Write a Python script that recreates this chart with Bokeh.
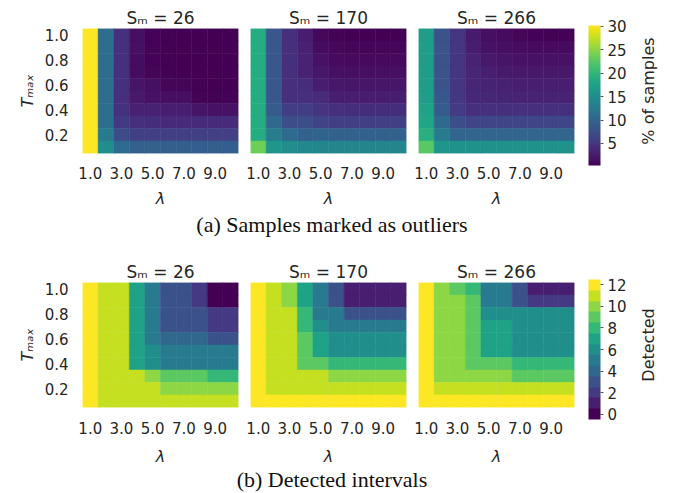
import math
from bokeh.plotting import figure
from bokeh.layouts import column, row
from bokeh.models import (ColumnDataSource, LinearColorMapper, ColorBar, FixedTicker,
                          PrintfTickFormatter, Range1d, Div, Label)
from bokeh.palettes import Viridis256, viridis
from bokeh.embed import file_html
from bokeh.resources import INLINE

# ---------------- data ----------------
lambdas = [1, 2, 3, 4, 5, 6, 7, 8, 9, 10]
t_max = [1.0, 0.9, 0.8, 0.7, 0.6, 0.5, 0.4, 0.3, 0.2, 0.1]   # rows, top to bottom
s_m = [26, 170, 266]
x_ticks = [1, 3, 5, 7, 9]
y_ticks = [0.2, 0.4, 0.6, 0.8, 1.0]
pct_ticks = [5, 10, 15, 20, 25, 30]
det_ticks = [0, 2, 4, 6, 8, 10, 12]
pct_range = [0.3, 30.2]
det_range = [0, 12]

# (a) % of samples marked as outliers
pct_26 = [
    [30.2, 11, 4.5, 1.5, 0.6, 0.5, 0.4, 0.3, 0.3, 0.3],
    [30.2, 11, 4.5, 1.5, 0.6, 0.5, 0.4, 0.3, 0.3, 0.3],
    [30.2, 11, 4.5, 1.3, 0.6, 0.5, 0.4, 0.3, 0.3, 0.3],
    [30.2, 11, 4.5, 1.3, 0.7, 0.5, 0.4, 0.4, 0.3, 0.3],
    [30.2, 11, 4.5, 2.0, 1.5, 0.8, 0.7, 0.5, 0.4, 0.4],
    [30.2, 11, 4.5, 2.4, 1.8, 1.5, 1.5, 0.6, 0.5, 0.5],
    [30.2, 11, 4.6, 3.0, 3.0, 2.8, 2.8, 2.0, 1.8, 1.8],
    [30.2, 11, 5.4, 4.5, 4.2, 4.0, 4.0, 4.0, 4.0, 4.0],
    [30.2, 12.5, 7.2, 6.0, 6.0, 6.0, 6.0, 6.0, 6.0, 6.0],
    [30.2, 15, 10.8, 9.5, 9.5, 9.3, 9.3, 9.2, 9.2, 9.2],
]
pct_170 = [
    [18.8, 8.4, 4.5, 2.7, 1.0, 0.6, 0.4, 0.3, 0.3, 0.3],
    [18.8, 8.4, 4.5, 3.0, 1.3, 0.9, 0.8, 0.8, 0.8, 0.8],
    [18.8, 8.4, 4.5, 3.3, 1.8, 1.2, 1.1, 1.1, 1.1, 1.1],
    [18.8, 8.4, 4.5, 3.3, 2.2, 1.6, 1.5, 1.5, 1.5, 1.5],
    [18.8, 8.4, 4.5, 4.2, 2.6, 2.2, 2.1, 2.1, 2.1, 2.1],
    [18.8, 8.4, 4.5, 4.4, 3.9, 2.8, 2.7, 2.7, 2.7, 2.7],
    [18.8, 9.0, 5.7, 5.7, 4.8, 4.3, 4.2, 4.2, 4.2, 4.2],
    [18.8, 10.5, 7.5, 7.5, 6.3, 6.0, 6.0, 6.0, 6.0, 6.0],
    [18.8, 12.8, 10.8, 9.6, 9.9, 9.6, 9.6, 9.6, 9.6, 9.6],
    [23.6, 16, 15, 14.3, 14, 14, 14, 14, 14, 14],
]
pct_266 = [
    [17, 8.0, 5.0, 2.5, 1.5, 1.2, 0.8, 0.6, 0.5, 0.5],
    [17, 8.0, 5.0, 2.7, 1.8, 1.5, 1.3, 1.2, 1.2, 1.2],
    [17, 8.0, 5.0, 3.2, 2.3, 2.0, 1.8, 1.8, 1.8, 1.8],
    [17, 8.0, 5.0, 3.5, 2.8, 2.5, 2.3, 2.3, 2.3, 2.3],
    [17, 8.0, 5.0, 3.5, 3.2, 3.0, 2.8, 2.8, 2.8, 2.8],
    [17, 8.5, 5.2, 3.8, 3.5, 3.4, 3.3, 3.3, 3.3, 3.3],
    [17.5, 9.0, 5.5, 4.5, 4.5, 4.5, 4.5, 4.5, 4.5, 4.5],
    [18, 10.5, 7.5, 6.5, 6.5, 6.5, 6.5, 6.5, 6.5, 6.5],
    [19, 12.5, 10, 10, 10, 10, 10, 10, 10, 10],
    [22.5, 16, 15.5, 15.5, 15.5, 15.5, 15.5, 15.5, 15.5, 15.5],
]

# (b) detected intervals
det_26 = [
    [12, 11, 11, 7, 5, 3, 3, 2, 0, 0],
    [12, 11, 11, 7, 5, 3, 3, 2, 0, 0],
    [12, 11, 11, 7, 5, 3, 3, 3, 2, 2],
    [12, 11, 11, 7, 5, 3, 3, 3, 2, 2],
    [12, 11, 11, 7, 5, 4, 4, 4, 3, 3],
    [12, 11, 11, 7, 6, 5, 5, 5, 5, 5],
    [12, 11, 11, 7, 6, 5, 5, 5, 5, 5],
    [12, 11, 11, 11, 10, 9, 9, 9, 8, 8],
    [12, 11, 11, 11, 11, 10, 10, 10, 10, 10],
    [12, 11, 11, 11, 11, 11, 11, 11, 11, 11],
]
det_170 = [
    [12, 11, 10, 7, 5, 3, 1, 1, 1, 1],
    [12, 11, 10, 7, 5, 3, 1, 1, 1, 1],
    [12, 11, 11, 8, 5, 5, 3, 3, 3, 3],
    [12, 11, 11, 8, 6, 5, 5, 5, 5, 5],
    [12, 11, 11, 9, 7, 6, 6, 6, 6, 6],
    [12, 11, 11, 9, 7, 6, 6, 6, 6, 6],
    [12, 11, 11, 9, 9, 8, 8, 8, 8, 8],
    [12, 11, 11, 11, 11, 10, 10, 10, 10, 10],
    [12, 11, 11, 11, 11, 11, 11, 11, 11, 11],
    [12, 12, 12, 12, 12, 12, 12, 12, 12, 12],
]
det_266 = [
    [12, 10, 9, 8, 5, 5, 3, 1, 1, 1],
    [12, 10, 10, 9, 5, 5, 3, 2, 2, 2],
    [12, 10, 10, 9, 6, 6, 6, 6, 6, 6],
    [12, 10, 10, 9, 7, 7, 6, 6, 6, 6],
    [12, 10, 10, 9, 7, 7, 6, 6, 6, 6],
    [12, 10, 10, 9, 7, 7, 6, 6, 6, 6],
    [12, 10, 10, 9, 9, 9, 8, 8, 8, 8],
    [12, 10, 10, 10, 10, 10, 9, 9, 9, 9],
    [12, 11, 11, 11, 11, 11, 11, 11, 11, 11],
    [12, 12, 12, 12, 12, 12, 12, 12, 12, 12],
]

caption_a = "(a) Samples marked as outliers"
caption_b = "(b) Detected intervals"

# ---------------- styling ----------------
TXT = "#262626"
FONT = "DejaVu Sans"
FIG_H = 215

pct_mapper = LinearColorMapper(palette=Viridis256, low=pct_range[0], high=pct_range[1])
det_mapper = LinearColorMapper(palette=viridis(13), low=det_range[0] - 0.5, high=det_range[1] + 0.5)


def heatmap(values, sm, mapper, first, tick_standoff, label_standoff):
    xs, ys, vs = [], [], []
    for i, t in enumerate(t_max):
        for j, lam in enumerate(lambdas):
            xs.append(lam)
            ys.append(t)
            vs.append(values[i][j])
    src = ColumnDataSource(dict(x=xs, y=ys, v=vs))
    left = 82 if first else 6
    p = figure(width=left + 156 + 6, height=FIG_H,
               x_range=Range1d(lambdas[0] - 0.5, lambdas[-1] + 0.5),
               y_range=Range1d(t_max[-1] - 0.05, t_max[0] + 0.05),
               output_backend="svg", toolbar_location=None,
               title="Sₘ = %d" % sm,
               y_axis_location="left" if first else None,
               min_border_left=left, min_border_right=6,
               min_border_top=28, min_border_bottom=62)
    p.rect("x", "y", 1, 0.1, source=src,
           fill_color={"field": "v", "transform": mapper},
           line_color={"field": "v", "transform": mapper}, line_width=0.5)
    p.grid.visible = False
    p.outline_line_color = None
    p.title.align = "center"
    p.title.text_font = FONT
    p.title.text_font_size = "17px"
    p.title.text_font_style = "normal"
    p.title.text_color = TXT
    p.title.standoff = 2
    axes = [p.xaxis[0]] + ([p.yaxis[0]] if first else [])
    for ax in axes:
        ax.axis_line_color = None
        ax.major_tick_line_color = None
        ax.minor_tick_line_color = None
        ax.major_label_text_font = FONT
        ax.major_label_text_font_size = "15px"
        ax.major_label_text_color = TXT
        ax.axis_label_text_font = FONT
        ax.axis_label_text_font_size = "16px"
        ax.axis_label_text_font_style = "italic"
        ax.axis_label_text_color = TXT
        ax.formatter = PrintfTickFormatter(format="%.1f")
    p.xaxis.ticker = FixedTicker(ticks=x_ticks)
    p.xaxis.axis_label = "λ"
    p.xaxis.major_label_standoff = tick_standoff
    p.xaxis.axis_label_standoff = label_standoff
    if first:
        p.yaxis.ticker = FixedTicker(ticks=y_ticks)
        p.yaxis.axis_label = "Tₘₐₓ"
        p.yaxis.major_label_standoff = 8
        p.yaxis.axis_label_standoff = 5
    return p


def colorbar_fig(mapper, lo, hi, ticks, label, top):
    frame_w = 72
    p = figure(width=8 + frame_w + 4, height=FIG_H,
               x_range=Range1d(0, frame_w), y_range=Range1d(lo, hi),
               x_axis_location=None, y_axis_location=None,
               output_backend="svg", toolbar_location=None,
               min_border_left=8, min_border_right=4,
               min_border_top=top, min_border_bottom=FIG_H - top - 140)
    p.grid.visible = False
    p.outline_line_color = None
    cb = ColorBar(color_mapper=mapper, width=12, height=140, padding=0, margin=0,
                  location=(0, -12),
                  ticker=FixedTicker(ticks=ticks),
                  formatter=PrintfTickFormatter(format="%d"),
                  major_tick_in=0, major_tick_out=3,
                  major_tick_line_color="#555555", minor_tick_line_color=None,
                  label_standoff=4,
                  major_label_text_font=FONT, major_label_text_font_size="15px",
                  major_label_text_color=TXT,
                  bar_line_color=None, border_line_color=None,
                  background_fill_color=None)
    p.add_layout(cb, "center")
    lab = Label(x=60, y=(lo + hi) / 2, text=label,
                angle=math.pi / 2, angle_units="rad", text_align="center",
                text_baseline="middle", text_font=FONT, text_font_size="16px",
                text_color=TXT)
    p.add_layout(lab)
    return p


row_a = row(
    heatmap(pct_26, s_m[0], pct_mapper, True, 7, 7),
    heatmap(pct_170, s_m[1], pct_mapper, False, 7, 7),
    heatmap(pct_266, s_m[2], pct_mapper, False, 7, 7),
    colorbar_fig(pct_mapper, pct_range[0], pct_range[1], pct_ticks, "% of samples", 22),
)
row_b = row(
    heatmap(det_26, s_m[0], det_mapper, True, 8, 10),
    heatmap(det_170, s_m[1], det_mapper, False, 8, 10),
    heatmap(det_266, s_m[2], det_mapper, False, 8, 10),
    colorbar_fig(det_mapper, det_range[0] - 0.5, det_range[1] + 0.5, det_ticks, "Detected", 24),
)

cap_style = {"font-family": "Liberation Serif", "font-size": "22px", "color": "#111111",
             "text-align": "center", "width": "664px"}
cap_a = Div(text=caption_a, width=664, height=39, margin=0,
            styles=dict(cap_style, **{"line-height": "20px"}))
cap_b = Div(text=caption_b, width=664, height=22, margin=0,
            styles=dict(cap_style, **{"line-height": "22px"}))

layout = column(row_a, cap_a, row_b, cap_b)

with open("out.html", "w") as f:
    f.write(file_html(layout, INLINE))
